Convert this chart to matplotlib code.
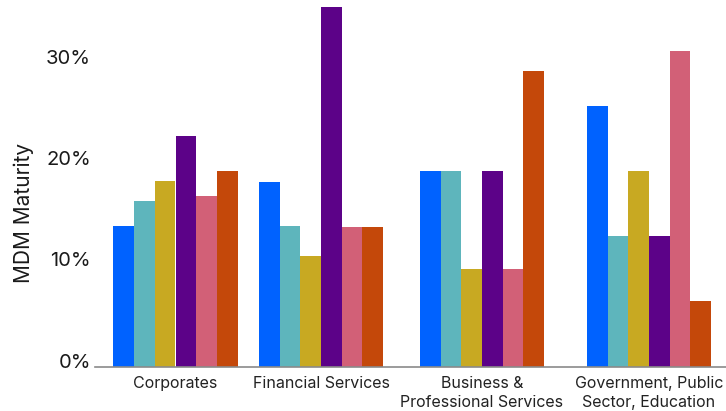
import numpy as np
import matplotlib.pyplot as plt
from matplotlib.transforms import offset_copy

plt.rcParams['font.family'] = ['Inter', 'DejaVu Sans']

# Industry groups and their share of each MDM maturity level (%)
sectors = ["Corporates", "Financial Services", "Business &\nProfessional Services",
           "Government, Public\nSector, Education"]
level_1 = [13.9, 18.2, 19.3, 25.7]
level_2 = [16.3, 13.9, 19.3, 12.9]
level_3 = [18.3, 10.9, 9.6, 19.3]
level_4 = [22.8, 35.5, 19.3, 12.9]
level_5 = [16.8, 13.8, 9.6, 31.1]
level_6 = [19.3, 13.8, 29.2, 6.5]

series = [level_1, level_2, level_3, level_4, level_5, level_6]
colors = ["#0062ff", "#5eb5bc", "#c8a922", "#5c0288", "#d26077", "#c4480a"]

# group centres along the axis (axis units = pixels across the figure)
group_x = np.array([175.5, 321.0, 482.0, 649.0])
bar_w = 20.67

fig = plt.figure(figsize=(7.26, 4.11), dpi=100)
ax = fig.add_axes([95 / 726, 44.5 / 411, 631 / 726, 366.5 / 411])

for i, (vals, c) in enumerate(zip(series, colors)):
    offs = (i - 2.5) * bar_w
    ax.bar(group_x + offs, vals, width=bar_w, color=c, linewidth=0)

ax.set_xlim(95, 726)
ax.set_ylim(0, 366.5 / 10.13)

for s in ["top", "right", "left"]:
    ax.spines[s].set_visible(False)
ax.spines["bottom"].set_color("#8a8a8a")
ax.spines["bottom"].set_linewidth(1.2)

ax.set_yticks([0, 10, 20, 30])
ax.set_yticklabels(["0%", "10%", "20%", "30%"], fontsize=14.5, color="#1a1a1a")
ax.tick_params(axis="y", length=0, pad=3)
for lbl in ax.get_yticklabels():
    lbl.set_transform(offset_copy(lbl.get_transform(), fig=fig, y=6, units="dots"))

ax.set_xticks(group_x)
ax.set_xticklabels(sectors, fontsize=11.5, color="#222222", linespacing=1.3)
ax.tick_params(axis="x", length=0, pad=7)

ax.set_ylabel("MDM Maturity", fontsize=15, color="#1a1a1a")
ax.yaxis.set_label_coords(-0.097, 0.42)

fig.savefig("out.png", dpi=100)
